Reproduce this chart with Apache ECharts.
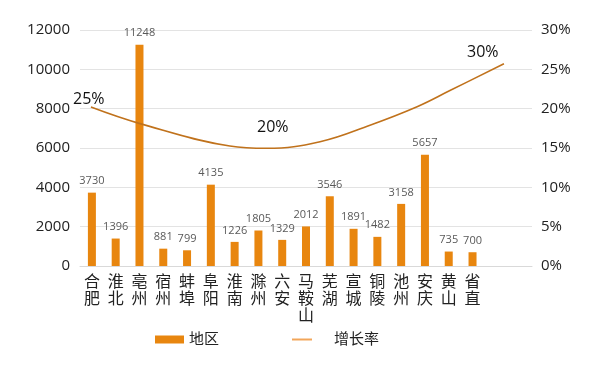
<!DOCTYPE html>
<html><head><meta charset="utf-8">
<script src="https://cdn.jsdelivr.net/npm/echarts@6/dist/echarts.min.js"></script>
<style>html,body{margin:0;padding:0;background:#fff}#c{width:604px;height:391px}</style>
</head><body><div id="c"></div>
<script>
// Categories (3 trailing empty slots as in the reference axis)
const categories = ['合肥','淮北','亳州','宿州','蚌埠','阜阳','淮南','滁州','六安','马鞍山','芜湖','宣城','铜陵','池州','安庆','黄山','省直','',''];
const regionValues = [3730,1396,11248,881,799,4135,1226,1805,1329,2012,3546,1891,1482,3158,5657,735,700];
// growth-rate curve: [category position, percent]
const growthPos  = [-0.04, 2.02, 5.8, 7.36, 9.59, 11.69, 13.67, 15.05, 17.32];
const growthRate = [20.2, 18.1, 15.25, 14.96, 15.8, 17.9, 20.25, 22.3, 25.7];
const leftTicks = [0,2000,4000,6000,8000,10000,12000];
const rightTicks = [0,5,10,15,20,25,30];
const annotations = ['25%','20%','30%'];

const font = '"Open Sans", "Noto Sans CJK SC", sans-serif';
const chart = echarts.init(document.getElementById('c'), null, {renderer:'canvas'});
chart.setOption({
  animation:false,
  grid:{left:80,right:72,top:30,bottom:125},
  legend:[
    {data:['地区'],left:150,top:327,itemWidth:29,itemHeight:8,icon:'rect',
     textStyle:{fontFamily:font,fontSize:15,color:'#222'},itemGap:5},
    {data:[{name:'增长率',icon:'rect',itemStyle:{color:'#F2A65A'}}],left:287,top:327,itemWidth:20,itemHeight:2,
     textStyle:{fontFamily:font,fontSize:15,color:'#222',padding:[0,0,0,17]}}
  ],
  xAxis:[
    {type:'category',data:categories,
     axisLine:{lineStyle:{color:'#D9D9D9'}},axisTick:{show:false},
     axisLabel:{interval:0,margin:8,fontFamily:font,fontSize:16,lineHeight:17,color:'#222',
       formatter:v=>v.split('').join('\n')}},
    {type:'value',min:-0.5,max:18.5,show:false}
  ],
  yAxis:[
    {type:'value',min:leftTicks[0],max:leftTicks[leftTicks.length-1],interval:leftTicks[1]-leftTicks[0],
     axisLabel:{fontFamily:font,fontSize:15,color:'#222',margin:10,formatter:v=>String(v)},
     splitLine:{lineStyle:{color:'#E3E3E3'}},axisLine:{show:false},axisTick:{show:false}},
    {type:'value',min:rightTicks[0],max:rightTicks[rightTicks.length-1],interval:rightTicks[1]-rightTicks[0],
     axisLabel:{fontFamily:font,fontSize:15,color:'#222',margin:9,formatter:'{value}%'},
     splitLine:{show:false},axisLine:{show:false},axisTick:{show:false}}
  ],
  series:[
    {name:'地区',type:'bar',data:regionValues,barWidth:8,xAxisIndex:0,yAxisIndex:0,
     itemStyle:{color:'#E8860F'},
     label:{show:true,position:'top',distance:6,fontFamily:font,fontSize:11,color:'#595959'}},
    {name:'增长率',type:'line',xAxisIndex:1,yAxisIndex:1,smooth:0.4,showSymbol:false,
     data:growthPos.map((p,i)=>[p,growthRate[i]]),
     lineStyle:{color:'#C0721C',width:1.6},itemStyle:{color:'#C0721C'}}
  ],
  graphic:[
    {type:'text',left:73,top:91,style:{text:annotations[0],font:'16px '+font,fill:'#111'}},
    {type:'text',left:257,top:119,style:{text:annotations[1],font:'16px '+font,fill:'#111'}},
    {type:'text',left:467,top:44,style:{text:annotations[2],font:'16px '+font,fill:'#111'}}
  ]
});
</script></body></html>
